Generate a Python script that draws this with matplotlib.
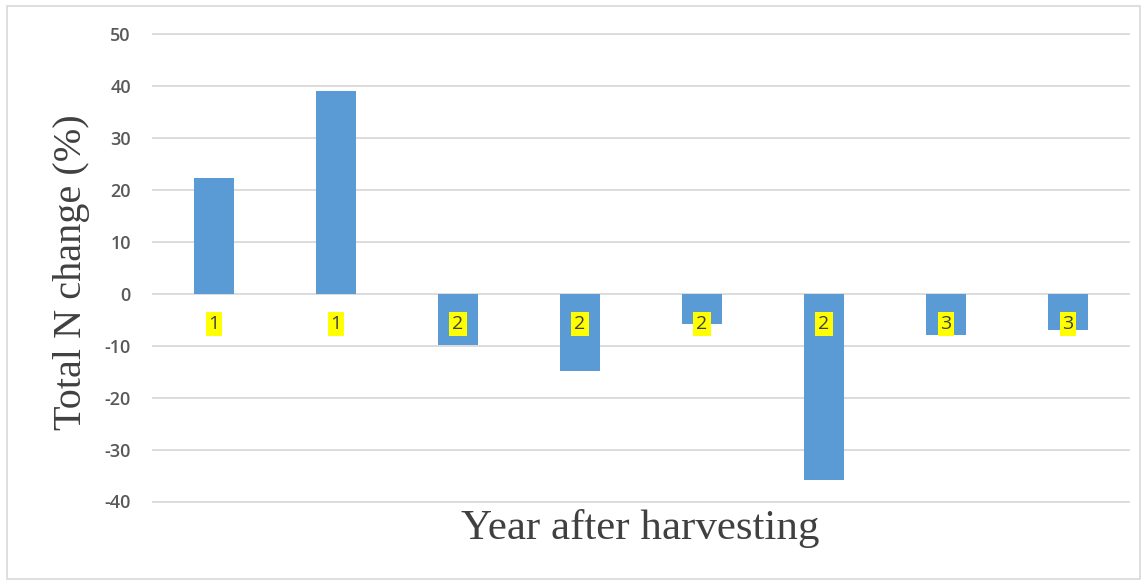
import matplotlib
matplotlib.use("Agg")
import matplotlib.pyplot as plt
from matplotlib.patches import Rectangle

# Data
sites = ["S1", "S2", "S3", "S4", "S5", "S6", "S7", "S8"]
year_labels = ["1", "1", "2", "2", "2", "2", "3", "3"]
n_change = [22.3, 39.1, -9.9, -14.9, -5.8, -35.9, -8.0, -6.9]
y_ticks = [-40, -30, -20, -10, 0, 10, 20, 30, 40, 50]

fig = plt.figure(figsize=(11.44, 5.84), dpi=100)
ax = fig.add_axes([153 / 1144, 1 - 501.5 / 584, 976 / 1144, (501.5 - 34) / 584])

x = list(range(len(sites)))
ax.bar(x, n_change, width=0.32, color="#5B9BD5", zorder=3)

ax.set_xlim(-0.5, len(sites) - 0.5)
ax.set_ylim(-40, 50)
ax.set_yticks(y_ticks)
ax.set_yticklabels([str(t) for t in y_ticks], fontsize=13, color="#595959",
                   family="Open Sans", fontweight="semibold")
ax.set_xticks([])
ax.tick_params(axis="y", length=0, pad=16)
for s in ax.spines.values():
    s.set_visible(False)
for t in y_ticks:
    ax.axhline(t, color="#d9d9d9", linewidth=1.3, zorder=1, clip_on=False)

# Year labels sitting just under the zero line
for xi, lab in zip(x, year_labels):
    ax.text(xi, -5.9, lab, ha="center", va="center", fontsize=14,
            color="#404040", family="Open Sans", zorder=4,
            bbox=dict(boxstyle="square,pad=0.15", facecolor="#FFFF00",
                      edgecolor="none"))

fig.text(72 / 1144, 1 - 272 / 584, "Total N change (%)", rotation=90,
         ha="center", va="center", fontsize=29, color="#404040",
         family="Liberation Serif")
fig.text(640 / 1144, 1 - 529 / 584, "Year after harvesting", ha="center",
         va="center", fontsize=31, color="#404040", family="Liberation Serif")

# Chart frame
fig.patches.append(Rectangle((7 / 1144, 1 - 579 / 584), 1133 / 1144, 573 / 584,
                             transform=fig.transFigure, fill=False,
                             edgecolor="#d9d9d9", linewidth=1.2))

fig.savefig("out.png", dpi=100)
